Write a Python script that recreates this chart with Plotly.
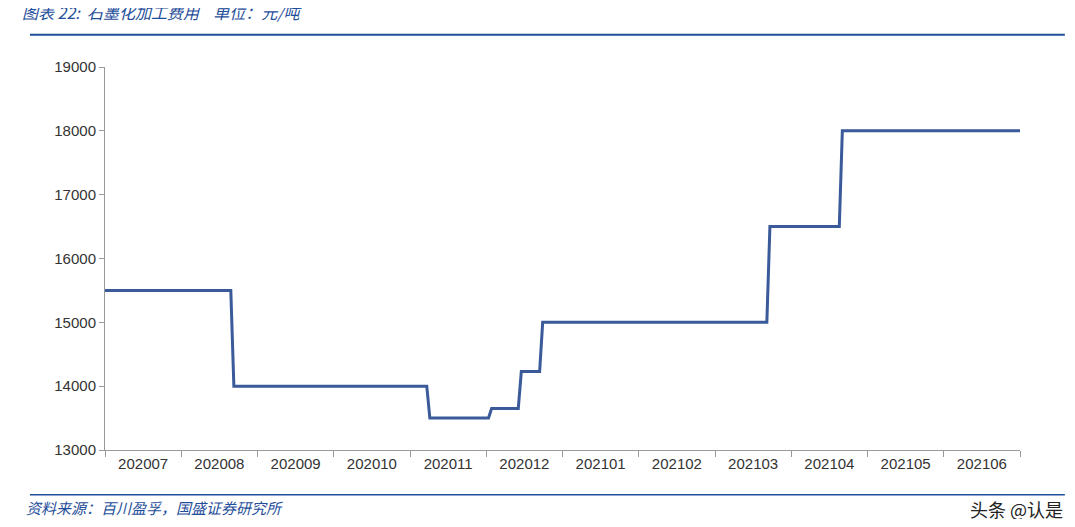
import plotly.graph_objects as go

months = ["202007","202008","202009","202010","202011","202012","202101","202102","202103","202104","202105","202106"]
x_pos = [0.0,1.65,1.69,4.22,4.26,5.03,5.07,5.42,5.46,5.70,5.74,8.68,8.72,9.63,9.67,12.0]
price = [15500,15500,14000,14000,13500,13500,13650,13650,14230,14230,15000,15000,16500,16500,18000,18000]

fig = go.Figure(go.Scatter(x=x_pos, y=price, mode="lines", line=dict(color="#3A5A9A", width=3)))
blue = "#1F4E9A"
fig.update_layout(
    width=1059, height=511, paper_bgcolor="white", plot_bgcolor="white",
    margin=dict(l=97, r=47, t=59, b=69), showlegend=False,
    font=dict(family="Liberation Sans, Arial", size=15, color="#333"),
    xaxis=dict(range=[0,12], tickvals=[i+0.5 for i in range(12)], ticktext=months,
               ticks="", showline=True, linecolor="#999", linewidth=1, showgrid=False,
               zeroline=False, minor=dict(tick0=0, dtick=1, ticks="outside", ticklen=6, tickcolor="#999")),
    yaxis=dict(range=[13000,19000], dtick=1000, tickformat="d", showline=True, linecolor="#999", ticks="outside",
               tickcolor="#999", ticklen=5, showgrid=False, zeroline=False),
    shapes=[dict(type="line", xref="paper", yref="paper", x0=-0.082, x1=1.049, y0=1.084, y1=1.084,
                 line=dict(color=blue, width=2)),
            dict(type="line", xref="paper", yref="paper", x0=-0.082, x1=1.049, y0=-0.117, y1=-0.117,
                 line=dict(color=blue, width=1.5))],
    annotations=[
        dict(text="<i>图表 22:  石墨化加工费用    单位：元/吨</i>", xref="paper", yref="paper", x=-0.093, y=1.144,
             xanchor="left", yanchor="middle", showarrow=False, font=dict(size=16, color=blue, family="Noto Sans CJK SC")),
        dict(text="<i>资料来源：百川盈孚，国盛证券研究所</i>", xref="paper", yref="paper", x=-0.088, y=-0.151,
             xanchor="left", yanchor="middle", showarrow=False, font=dict(size=15, color=blue, family="Noto Sans CJK SC")),
        dict(text="头条 @认是", xref="paper", yref="paper", x=1.049, y=-0.155, xanchor="right", yanchor="middle",
             showarrow=False, font=dict(size=18, color="#222", family="Noto Sans CJK SC")),
    ],
)
fig.write_html("out.html")
